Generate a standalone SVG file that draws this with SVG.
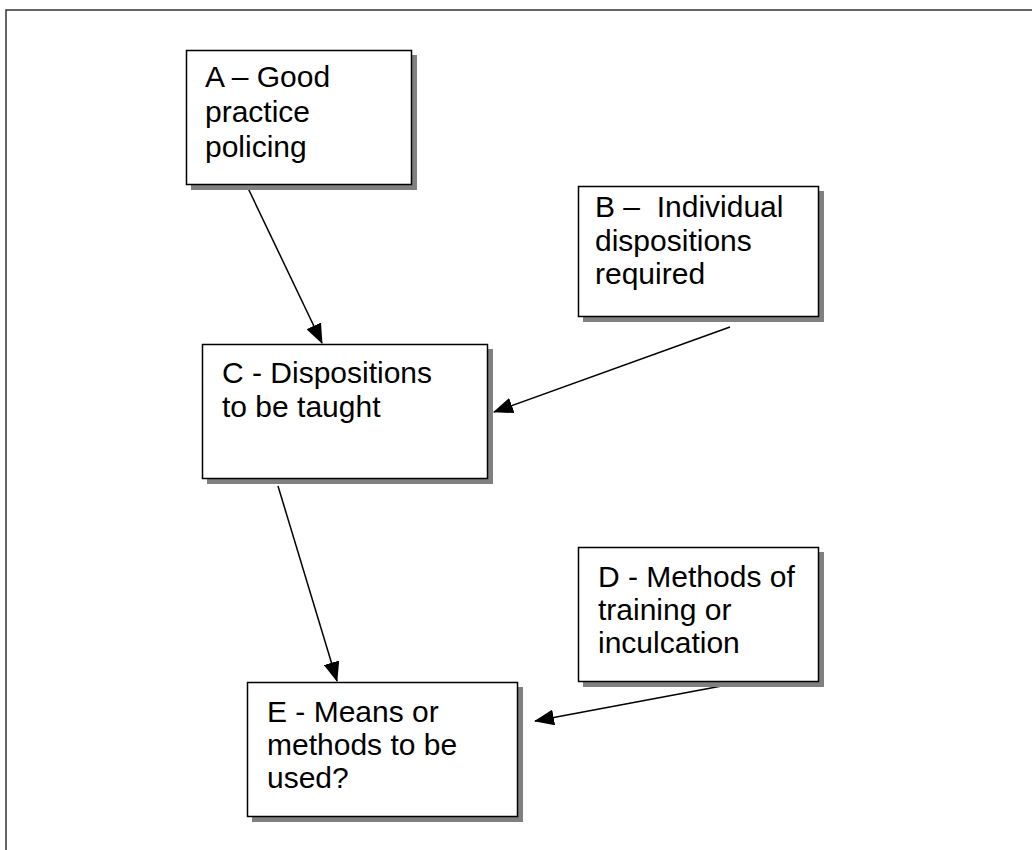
<svg xmlns="http://www.w3.org/2000/svg" width="1032" height="850" viewBox="0 0 1032 850">
<style>
.shadow{fill:#808080;stroke:none}
.box{fill:#fff;stroke:#000;stroke-width:1.5}
.lbl{font-family:"Liberation Sans",Arial,sans-serif;font-size:30px;fill:#000}
.conn{stroke:#000;stroke-width:1.5;fill:none;marker-end:url(#arr)}
</style>
<defs>
<marker id="arr" markerWidth="20" markerHeight="16" refX="19" refY="8" orient="auto" markerUnits="userSpaceOnUse">
<path d="M0,0 L20,8 L0,16 z" fill="#000"/>
</marker>
</defs>
<rect width="1032" height="850" fill="#fff"/>
<rect x="6" y="10" width="1040" height="860" fill="none" stroke="#333" stroke-width="1.5"/>
<g id="connectors">
<line class="conn" x1="247" y1="186" x2="322" y2="343"/>
<line class="conn" x1="730" y1="327" x2="494" y2="412"/>
<line class="conn" x1="278" y1="486" x2="337" y2="681"/>
<line class="conn" x1="743" y1="682" x2="535" y2="721"/>
</g>
<g id="nodeA">
<rect class="shadow" x="191" y="55" width="226" height="135"/>
<rect class="box" x="186.5" y="50.5" width="225" height="134"/>
<text class="lbl" x="205" y="87">A – Good</text>
<text class="lbl" x="205" y="122">practice</text>
<text class="lbl" x="205" y="157">policing</text>
</g>
<g id="nodeB">
<rect class="shadow" x="583" y="191" width="241" height="131"/>
<rect class="box" x="578.5" y="186.5" width="240" height="130"/>
<text class="lbl" x="595" y="217" xml:space="preserve">B –  Individual</text>
<text class="lbl" x="595" y="251">dispositions</text>
<text class="lbl" x="595" y="284">required</text>
</g>
<g id="nodeC">
<rect class="shadow" x="207" y="349" width="286" height="135"/>
<rect class="box" x="202.5" y="344.5" width="285" height="134"/>
<text class="lbl" x="222" y="383">C - Dispositions</text>
<text class="lbl" x="222" y="417">to be taught</text>
</g>
<g id="nodeD">
<rect class="shadow" x="583" y="552" width="241" height="135"/>
<rect class="box" x="578.5" y="547.5" width="240" height="134"/>
<text class="lbl" x="598" y="587">D - Methods of</text>
<text class="lbl" x="598" y="620">training or</text>
<text class="lbl" x="598" y="653">inculcation</text>
</g>
<g id="nodeE">
<rect class="shadow" x="252" y="687" width="271" height="135"/>
<rect class="box" x="247.5" y="682.5" width="270" height="134"/>
<text class="lbl" x="267" y="722">E - Means or</text>
<text class="lbl" x="267" y="755">methods to be</text>
<text class="lbl" x="267" y="788">used?</text>
</g>
</svg>
